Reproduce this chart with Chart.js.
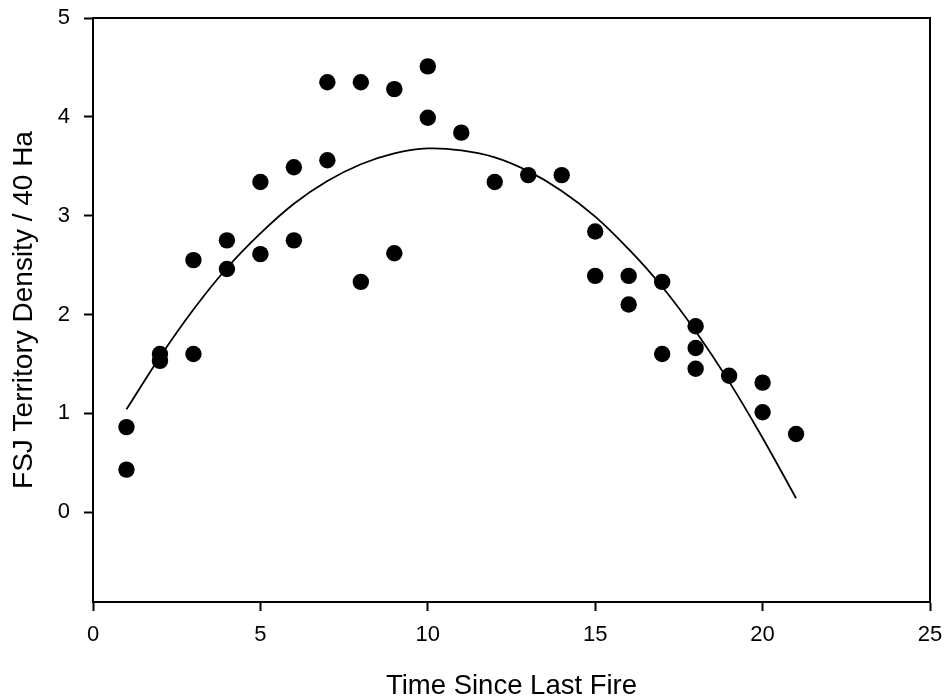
<!DOCTYPE html>
<html>
<head>
<meta charset="utf-8">
<script src="https://cdn.jsdelivr.net/npm/chart.js@4/dist/chart.umd.min.js"></script>
<style>
  html, body { margin: 0; padding: 0; background: #fff; }
  #wrap { width: 948px; height: 700px; position: relative; }
</style>
</head>
<body>
<div id="wrap"><canvas id="c" width="948" height="700"></canvas></div>
<script>
// Observed points: years since last fire and FSJ territory density
const obsYears = [1, 1, 2, 2, 3, 3, 4, 4, 5, 5, 6, 6, 7, 7, 8, 8, 9, 9, 10, 10,
                  11, 12, 13, 14, 15, 15, 16, 16, 17, 17, 18, 18, 18, 19, 20, 20, 21];
const obsDensity = [0.86, 0.43, 1.60, 1.53, 2.55, 1.60, 2.75, 2.46, 3.34, 2.61, 3.49, 2.75,
                    4.35, 3.56, 4.35, 2.33, 4.28, 2.62, 4.51, 3.99,
                    3.84, 3.34, 3.41, 3.41, 2.84, 2.39, 2.39, 2.10, 2.33, 1.60,
                    1.88, 1.66, 1.45, 1.38, 1.31, 1.01, 0.79];

// Fitted curve
const fitYears = [1, 2, 3, 4, 5, 6, 7, 8, 9, 10, 11, 12, 13, 14, 15, 16, 17, 18, 19, 20, 21];
const fitDensity = [1.04, 1.57, 2.05, 2.47, 2.82, 3.12, 3.35, 3.52, 3.63, 3.68, 3.66,
                    3.59, 3.45, 3.25, 2.99, 2.66, 2.28, 1.83, 1.32, 0.75, 0.14];

const xTicks = [0, 5, 10, 15, 20, 25];
const yTicks = [0, 1, 2, 3, 4, 5];

const xTitle = 'Time Since Last Fire';
const yTitle = 'FSJ Territory Density / 40 Ha';

const frame = {
  id: 'frame',
  afterDraw(chart) {
    const { ctx, chartArea: a } = chart;
    ctx.save();
    ctx.strokeStyle = '#000';
    ctx.lineWidth = 2;
    ctx.beginPath();
    ctx.moveTo(a.left, a.top);
    ctx.lineTo(a.right, a.top);
    ctx.lineTo(a.right, a.bottom);
    ctx.stroke();
    ctx.restore();
  }
};

const FONT = "'Liberation Sans', Arial, sans-serif";

new Chart(document.getElementById('c'), {
  type: 'scatter',
  data: {
    datasets: [
      {
        type: 'line',
        data: fitYears.map((x, i) => ({ x, y: fitDensity[i] })),
        borderColor: '#000',
        borderWidth: 1.8,
        pointRadius: 0,
        tension: 0.4,
        fill: false,
        order: 2
      },
      {
        type: 'scatter',
        data: obsYears.map((x, i) => ({ x, y: obsDensity[i] })),
        backgroundColor: '#000',
        borderColor: '#000',
        pointRadius: 8.2,
        borderWidth: 0,
        order: 1
      }
    ]
  },
  options: {
    responsive: false,
    animation: false,
    layout: { padding: { left: 0, right: 18, top: 18, bottom: 0 } },
    plugins: { legend: { display: false }, tooltip: { enabled: false } },
    scales: {
      x: {
        type: 'linear',
        min: 0, max: 25,
        afterBuildTicks: s => { s.ticks = xTicks.map(v => ({ value: v })); },
        afterFit: s => { s.height = 98; s.paddingLeft = 0; s.paddingRight = 0; },
        grid: { drawOnChartArea: false, drawTicks: true, tickLength: 9, tickWidth: 2, tickColor: '#000' },
        border: { display: true, color: '#000', width: 2 },
        ticks: { color: '#000', padding: 11, font: { family: FONT, size: 22 } },
        title: { display: true, text: xTitle, color: '#000', font: { family: FONT, size: 27.5, lineHeight: 1 }, padding: { top: 0, bottom: 0 } }
      },
      y: {
        type: 'linear',
        min: -0.91, max: 5,
        afterBuildTicks: s => { s.ticks = yTicks.map(v => ({ value: v })); },
        afterFit: s => { s.width = 93; s.paddingTop = 0; s.paddingBottom = 0; },
        grid: { drawOnChartArea: false, drawTicks: true, tickLength: 9, tickWidth: 2, tickColor: '#000' },
        border: { display: true, color: '#000', width: 2 },
        ticks: { color: '#000', padding: 14, font: { family: FONT, size: 22 } },
        title: { display: true, text: yTitle, color: '#000', font: { family: FONT, size: 28, lineHeight: 1 }, padding: { top: 10, bottom: 0 } }
      }
    }
  },
  plugins: [frame]
});
</script>
</body>
</html>
